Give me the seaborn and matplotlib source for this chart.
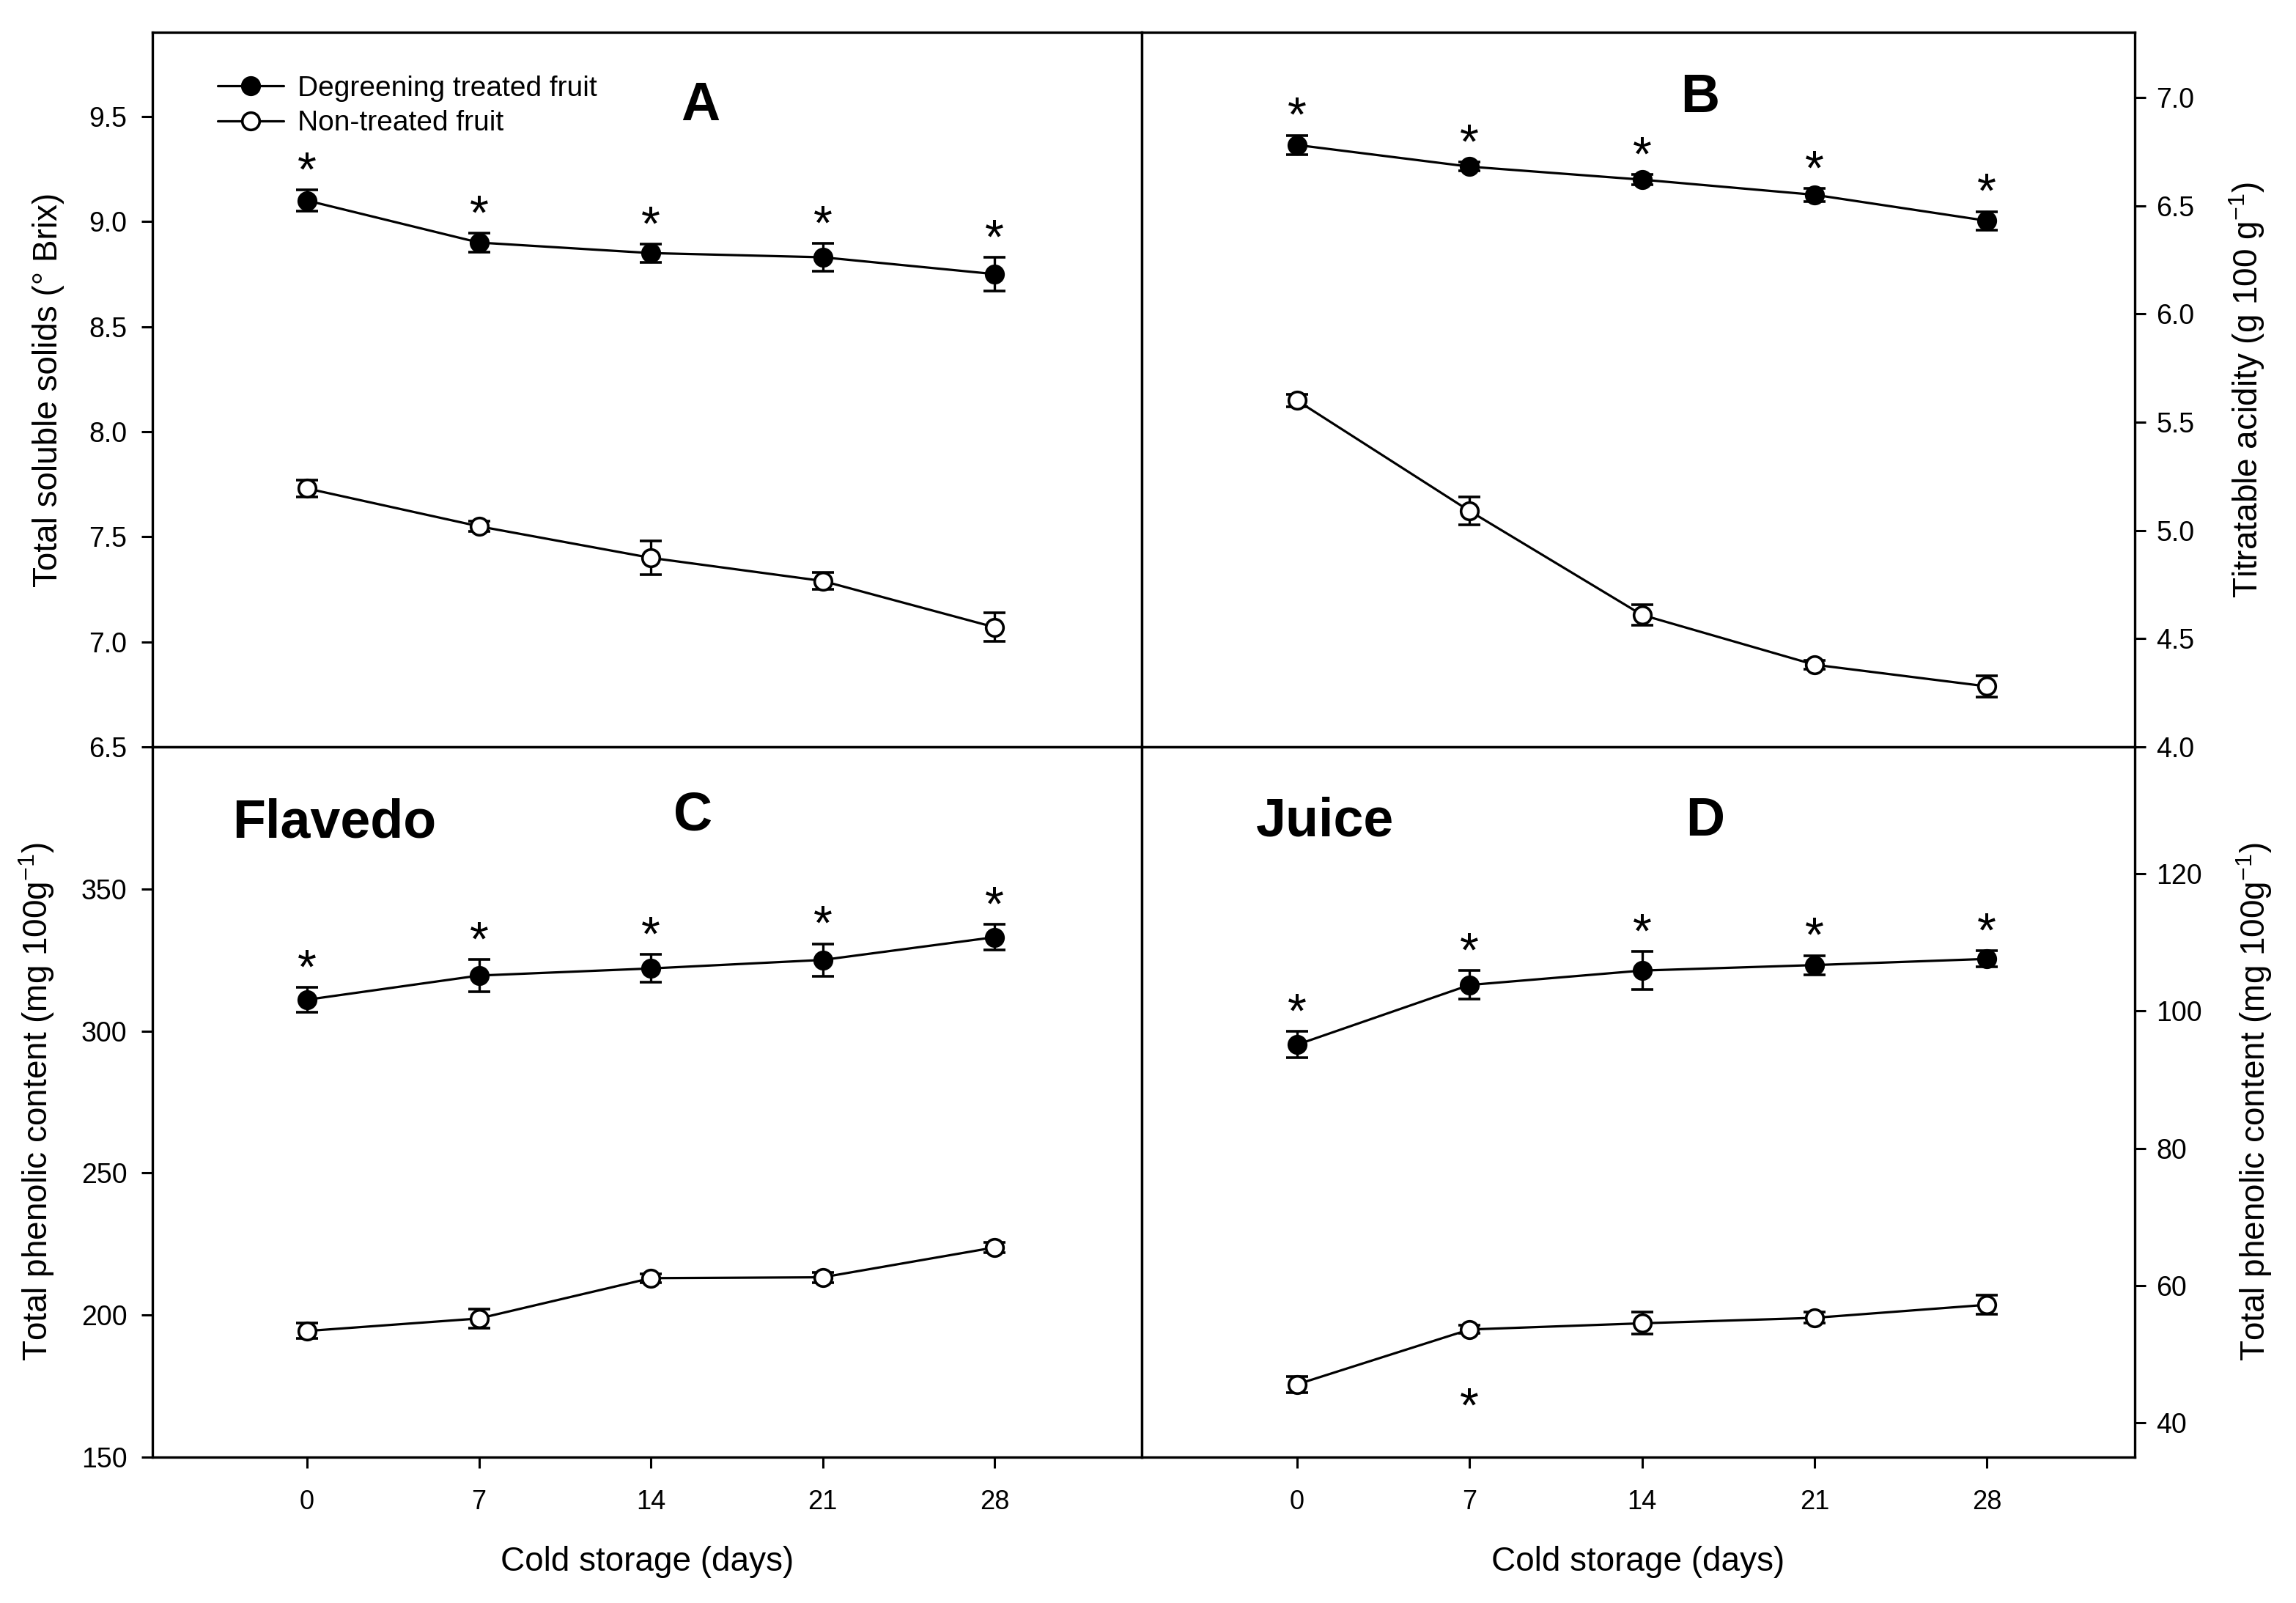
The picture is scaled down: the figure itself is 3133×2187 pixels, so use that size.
import matplotlib
matplotlib.use("Agg")
import matplotlib.pyplot as plt
import seaborn as sns
import pandas as pd
from matplotlib.lines import Line2D

# Data ---------------------------------------------------------------------------------
days = [0, 7, 14, 21, 28]
groups = ["Degreening treated fruit", "Non-treated fruit"]

tss_treated = [9.10, 8.90, 8.85, 8.83, 8.75]
tss_treated_se = [0.05, 0.044, 0.043, 0.065, 0.08]
tss_control = [7.73, 7.55, 7.40, 7.29, 7.07]
tss_control_se = [0.04, 0.025, 0.08, 0.04, 0.068]

ta_treated = [6.78, 6.68, 6.62, 6.55, 6.43]
ta_treated_se = [0.045, 0.02, 0.025, 0.03, 0.043]
ta_control = [5.60, 5.09, 4.61, 4.38, 4.28]
ta_control_se = [0.03, 0.065, 0.047, 0.02, 0.048]

flavedo_treated = [311.0, 319.5, 322.0, 325.0, 333.0]
flavedo_treated_se = [4.4, 5.6, 4.9, 5.7, 4.5]
flavedo_control = [194.4, 198.8, 213.0, 213.3, 223.8]
flavedo_control_se = [2.7, 3.3, 1.5, 1.8, 1.7]

juice_treated = [95.1, 103.8, 105.9, 106.7, 107.6]
juice_treated_se = [1.9, 2.1, 2.8, 1.4, 1.2]
juice_control = [45.6, 53.6, 54.5, 55.3, 57.2]
juice_control_se = [1.2, 0.6, 1.6, 0.8, 1.4]

# significance marks (above treated, below control)
star_treated = [True, True, True, True, True]
star_control_juice = [False, True, False, False, False]
star_none = [False] * 5

# Style --------------------------------------------------------------------------------
sns.set_style("ticks")
plt.rcParams["font.family"] = ["Liberation Sans", "DejaVu Sans"]
plt.rcParams["mathtext.default"] = "regular"
plt.rcParams["axes.linewidth"] = 2.4
for key in ["text.color", "axes.labelcolor", "xtick.color", "ytick.color", "axes.edgecolor"]:
    plt.rcParams[key] = "black"

fig = plt.figure(figsize=(31.33, 21.87), dpi=100)

panels = [
    dict(pos=[0.0664, 0.534, 0.4309, 0.4458], means=(tss_treated, tss_control),
         ses=(tss_treated_se, tss_control_se), stars=(star_treated, star_none),
         ylim=(6.5, 9.9), yticks=[6.5, 7.0, 7.5, 8.0, 8.5, 9.0, 9.5], fmt="{:.1f}",
         ylabel="Total soluble solids (\u00b0 Brix)", side="left", bottom=False,
         letter="A", letter_xy=(0.554, 0.897), title=None),
    dict(pos=[0.4973, 0.534, 0.4325, 0.4458], means=(ta_treated, ta_control),
         ses=(ta_treated_se, ta_control_se), stars=(star_treated, star_none),
         ylim=(4.0, 7.3), yticks=[4.0, 4.5, 5.0, 5.5, 6.0, 6.5, 7.0], fmt="{:.1f}",
         ylabel="Titratable acidity (g 100 g$^{-1}$)", side="right", bottom=False,
         letter="B", letter_xy=(0.562, 0.908), title=None),
    dict(pos=[0.0664, 0.091, 0.4309, 0.4431], means=(flavedo_treated, flavedo_control),
         ses=(flavedo_treated_se, flavedo_control_se), stars=(star_treated, star_none),
         ylim=(150, 400), yticks=[150, 200, 250, 300, 350], fmt="{:.0f}",
         ylabel="Total phenolic content (mg 100g$^{-1}$)", side="left", bottom=True,
         letter="C", letter_xy=(0.546, 0.9025), title=("Flavedo", (0.184, 0.893))),
    dict(pos=[0.4973, 0.091, 0.4325, 0.4431], means=(juice_treated, juice_control),
         ses=(juice_treated_se, juice_control_se), stars=(star_treated, star_control_juice),
         ylim=(35, 138.5), yticks=[40, 60, 80, 100, 120], fmt="{:.0f}",
         ylabel="Total phenolic content (mg 100g$^{-1}$)", side="right", bottom=True,
         letter="D", letter_xy=(0.5675, 0.895), title=("Juice", (0.1845, 0.895))),
]

face = ["black", "white"]

for i, p in enumerate(panels):
    ax = fig.add_axes(p["pos"])
    df = pd.DataFrame({
        "day": days * 2,
        "value": list(p["means"][0]) + list(p["means"][1]),
        "group": [groups[0]] * 5 + [groups[1]] * 5,
    })
    for g, grp in enumerate(groups):
        sub = df[df["group"] == grp]
        ax.errorbar(sub["day"], sub["value"], yerr=p["ses"][g], fmt="none",
                    ecolor="black", elinewidth=2.4, capsize=11, capthick=2.6, zorder=2)
        sns.lineplot(data=sub, x="day", y="value", ax=ax, color="black", linewidth=2.3,
                     marker="o", markersize=17, markerfacecolor=face[g],
                     markeredgecolor="black", markeredgewidth=2.6, errorbar=None,
                     zorder=3)
        # asterisks
        for d, m, s, flag in zip(days, p["means"][g], p["ses"][g], p["stars"][g]):
            if not flag:
                continue
            if g == 0:
                ax.annotate("*", (d, m + s), xytext=(0, -6), textcoords="offset points",
                            ha="center", va="bottom", fontsize=48)
            else:
                ax.annotate("*", (d, m - s), xytext=(0, -74), textcoords="offset points",
                            ha="center", va="center", fontsize=48)

    ax.set_xlim(-6.3, 34)
    ax.set_ylim(*p["ylim"])
    ax.set_yticks(p["yticks"])
    ax.set_yticklabels([p["fmt"].format(v) for v in p["yticks"]])
    ax.tick_params(axis="both", length=11, width=2.2, labelsize=27, direction="out")
    if p["side"] == "right":
        ax.yaxis.tick_right()
        ax.yaxis.set_label_position("right")
        ax.tick_params(axis="y", pad=10)
        ax.set_ylabel(p["ylabel"], fontsize=33, labelpad=32)
    else:
        ax.tick_params(axis="y", pad=14)
        ax.set_ylabel(p["ylabel"], fontsize=33, labelpad=24)
    if p["bottom"]:
        ax.set_xticks(days)
        ax.set_xticklabels([str(d) for d in days])
        ax.tick_params(axis="x", pad=21, labelsize=26)
        ax.set_xlabel("Cold storage (days)", fontsize=33, labelpad=30)
    else:
        ax.set_xticks([])
        ax.set_xlabel("")
    for sp in ax.spines.values():
        sp.set_visible(True)
        sp.set_linewidth(2.4)

    ax.text(*p["letter_xy"], p["letter"], transform=ax.transAxes, ha="center",
            va="center", fontsize=53, fontweight="bold")
    if p["title"] is not None:
        ax.text(*p["title"][1], p["title"][0], transform=ax.transAxes, ha="center",
                va="center", fontsize=53, fontweight="bold")

    if i == 0:
        handles = [
            Line2D([], [], color="black", linewidth=2.3, marker="o", markersize=17,
                   markerfacecolor=face[k], markeredgecolor="black", markeredgewidth=2.6)
            for k in range(2)
        ]
        ax.legend(handles, groups, loc="upper left", bbox_to_anchor=(0.066, 0.94),
                  frameon=False, fontsize=28, handlelength=2.3, handletextpad=0.5,
                  labelspacing=0.3, borderpad=0, borderaxespad=0)

fig.savefig("out.png", dpi=100)
